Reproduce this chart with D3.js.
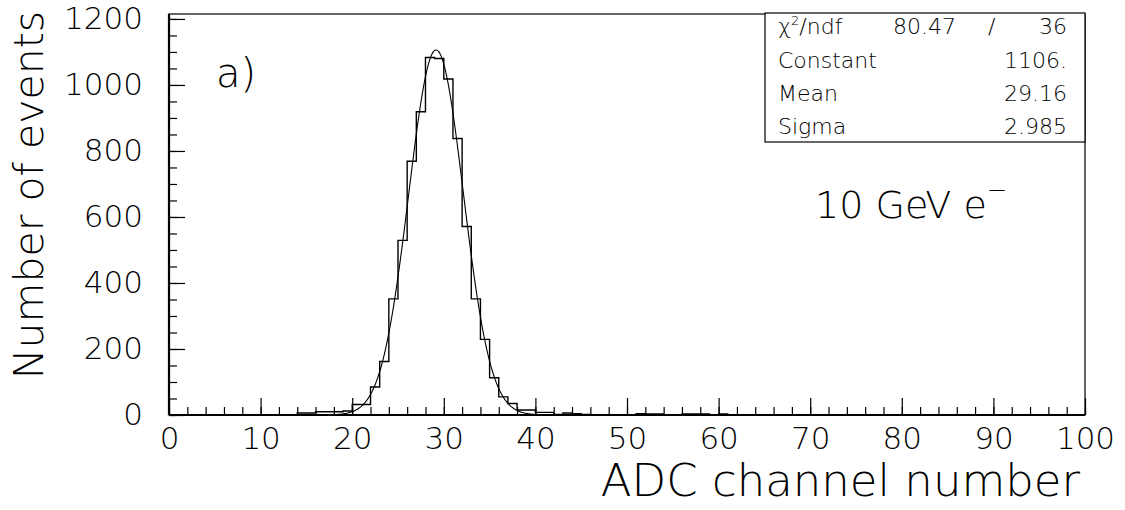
<!DOCTYPE html>
<html>
<head>
<meta charset="utf-8">
<script src="https://cdn.jsdelivr.net/npm/d3@7"></script>
<style>
  body { margin: 0; background: #fff; }
  svg text { font-family: "DejaVu Sans", sans-serif; font-weight: 200; fill: #000; }
</style>
</head>
<body>
<svg id="chart" width="1125" height="510"></svg>
<script>
// histogram: bin lower edges 0..99, width 1 ADC channel
const binEdges = d3.range(0, 100);
const counts = [
  0, 0, 0, 0, 0, 0, 0, 0, 0, 0,
  0, 0, 0, 0, 6, 6, 10, 10, 10, 12,
  32, 32, 85, 162, 352, 529, 769, 919, 1083, 1080,
  1018, 838, 571, 352, 229, 113, 55, 35, 15, 15,
  8, 8, 2, 6, 4, 2, 0, 0, 0, 0,
  0, 4, 3, 3, 0, 0, 3, 3, 3, 0,
  3, 0, 0, 0, 0, 0, 0, 0, 0, 0,
  0, 0, 0, 0, 0, 0, 0, 0, 0, 0,
  0, 0, 0, 0, 0, 0, 0, 0, 0, 0,
  0, 0, 0, 0, 0, 0, 0, 0, 0, 0
];

// gaussian fit results shown in the stats box
const fitNames = ['Constant', 'Mean', 'Sigma'];
const fitValues = [1106, 29.16, 2.985];
const fitLabels = ['1106.', '29.16', '2.985'];
const fitRange = [17, 42];
const chi2 = ['80.47', '36'];

const xTicks = d3.range(0, 101, 10);
const yTicks = d3.range(0, 1201, 200);

const svg = d3.select('#chart');

const x = d3.scaleLinear().domain([0, 100]).range([169, 1085]);
const y = d3.scaleLinear().domain([0, 1215]).range([415, 14]);

// frame
svg.append('rect')
  .attr('x', x(0)).attr('y', y(1215))
  .attr('width', x(100) - x(0)).attr('height', y(0) - y(1215))
  .attr('fill', 'none').attr('stroke', '#000').attr('stroke-width', 1.2);

// minor ticks
svg.append('g')
  .attr('transform', `translate(0,${y(0)})`)
  .call(d3.axisBottom(x).tickValues(d3.range(0, 101, 2)).tickSize(-8).tickFormat(''))
  .call(g => g.select('.domain').remove())
  .selectAll('line').attr('stroke-width', 1.2);

svg.append('g')
  .attr('transform', `translate(${x(0)},0)`)
  .call(d3.axisLeft(y).tickValues(d3.range(0, 1201, 50)).tickSize(-8).tickFormat(''))
  .call(g => g.select('.domain').remove())
  .selectAll('line').attr('stroke-width', 1.2);

// major ticks + labels
const xAxis = svg.append('g')
  .attr('transform', `translate(0,${y(0)})`)
  .call(d3.axisBottom(x).tickValues(xTicks).tickSize(-17).tickPadding(12).tickFormat(d3.format('d')));
xAxis.select('.domain').remove();
xAxis.selectAll('line').attr('stroke-width', 1.2);
xAxis.selectAll('text').attr('font-size', 31).attr('font-family', null);

const yAxis = svg.append('g')
  .attr('transform', `translate(${x(0)},0)`)
  .call(d3.axisLeft(y).tickValues(yTicks).tickSize(-16).tickPadding(26).tickFormat(d3.format('d')));
yAxis.select('.domain').remove();
yAxis.selectAll('line').attr('stroke-width', 1.2);
yAxis.selectAll('text').attr('font-size', 31).attr('font-family', null);

// thicker axis lines
svg.append('line')
  .attr('x1', x(0)).attr('x2', x(100)).attr('y1', y(0)).attr('y2', y(0))
  .attr('stroke', '#000').attr('stroke-width', 2.2);
svg.append('line')
  .attr('x1', x(0)).attr('x2', x(0)).attr('y1', y(0)).attr('y2', y(1215))
  .attr('stroke', '#000').attr('stroke-width', 2.2);

// histogram step outline
const steps = [];
binEdges.forEach((e, i) => {
  steps.push([e, counts[i]]);
  steps.push([e + 1, counts[i]]);
});
steps.unshift([0, 0]);
steps.push([100, 0]);
const line = d3.line().x(d => x(d[0])).y(d => y(d[1]));
svg.append('path')
  .datum(steps)
  .attr('fill', 'none').attr('stroke', '#000').attr('stroke-width', 1.4)
  .attr('d', line);

// fitted gaussian
const [c, mu, sig] = fitValues;
const fitPts = d3.range(fitRange[0], fitRange[1] + 0.001, 0.1)
  .map(u => [u, c * Math.exp(-0.5 * ((u - mu) / sig) ** 2)]);
svg.append('path')
  .datum(fitPts)
  .attr('fill', 'none').attr('stroke', '#000').attr('stroke-width', 1.1)
  .attr('d', d3.line().curve(d3.curveMonotoneX).x(d => x(d[0])).y(d => y(d[1])));

// stats box
const box = svg.append('g');
box.append('rect')
  .attr('x', 765).attr('y', 13).attr('width', 1085 - 765).attr('height', 129)
  .attr('fill', '#fff').attr('stroke', '#000').attr('stroke-width', 1.2);
const rowY = [34, 68, 101, 134];
const fs = 22;
const hdr = box.append('text').attr('x', 778).attr('y', rowY[0]).attr('font-size', fs);
hdr.append('tspan').text('χ');
hdr.append('tspan').text('2').attr('font-size', 13).attr('dy', -9);
hdr.append('tspan').text('/ndf').attr('dy', 9);
box.append('text').attr('x', 893).attr('y', rowY[0]).attr('font-size', fs).text(chi2[0]);
box.append('text').attr('x', 988).attr('y', rowY[0]).attr('font-size', fs).text('/');
box.append('text').attr('x', 1067).attr('y', rowY[0]).attr('font-size', fs)
  .attr('text-anchor', 'end').text(chi2[1]);
fitNames.forEach((n, i) => {
  box.append('text').attr('x', 778).attr('y', rowY[i + 1]).attr('font-size', fs).text(n);
  box.append('text').attr('x', 1067).attr('y', rowY[i + 1]).attr('font-size', fs)
    .attr('text-anchor', 'end').text(fitLabels[i]);
});

// annotations
svg.append('text').attr('x', 216).attr('y', 87).attr('font-size', 40).text('a)');
const beam = svg.append('text').attr('x', 815).attr('y', 218).attr('font-size', 38);
beam.append('tspan').text('10 GeV e');
beam.append('tspan').text('−').attr('font-size', 24).attr('dy', -20);

// axis titles
svg.append('text')
  .attr('x', 1080).attr('y', 496).attr('text-anchor', 'end')
  .attr('font-size', 45).text('ADC channel number');
svg.append('text')
  .attr('transform', 'translate(43,195) rotate(-90)')
  .attr('text-anchor', 'middle').attr('font-size', 41).text('Number of events');
</script>
</body>
</html>
